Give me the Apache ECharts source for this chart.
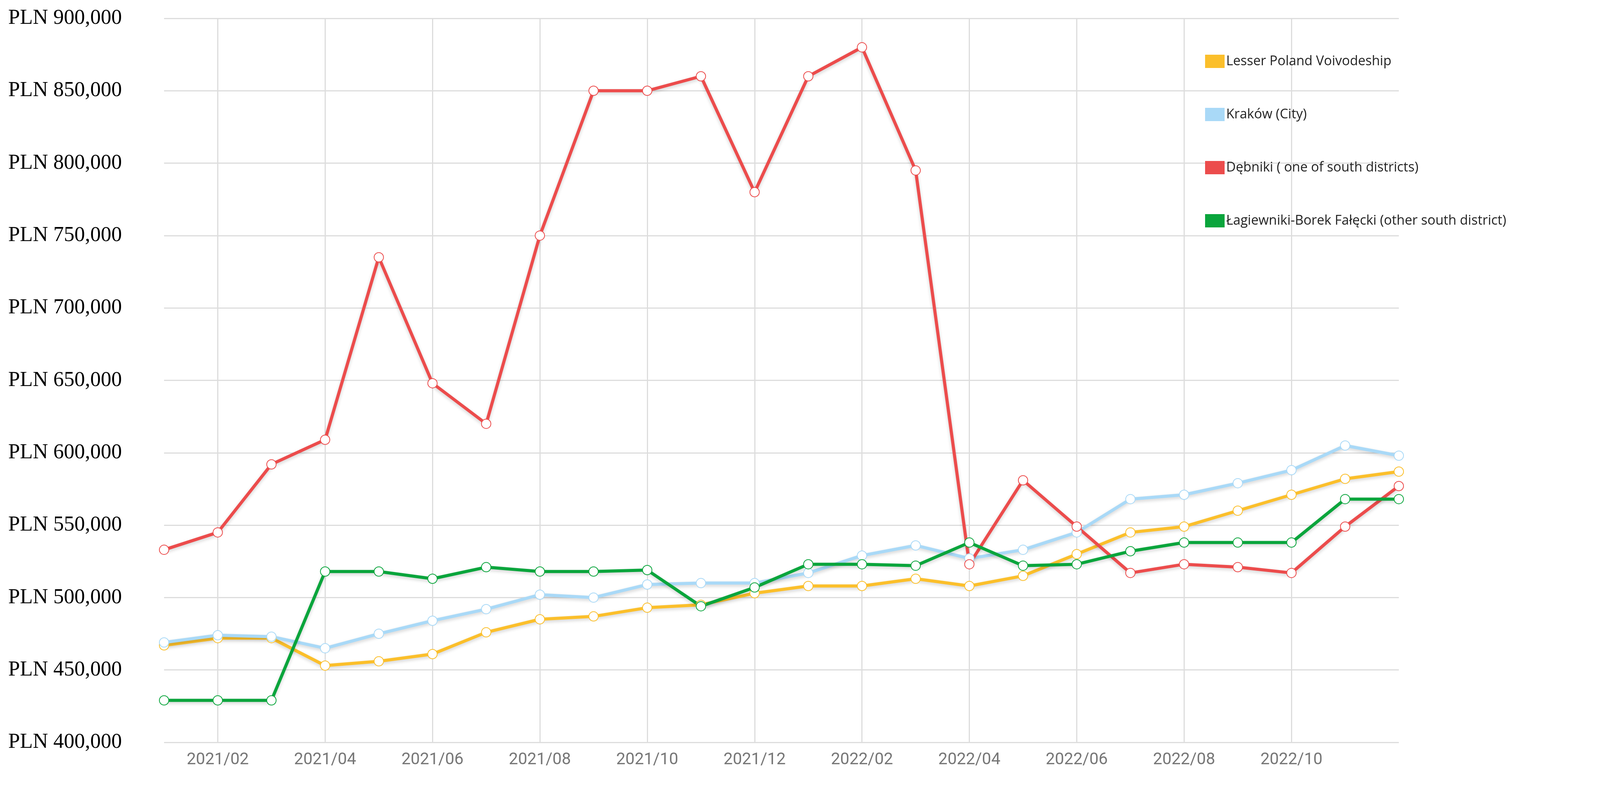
<!DOCTYPE html>
<html>
<head>
<meta charset="utf-8">
<script src="https://cdn.jsdelivr.net/npm/echarts@6/dist/echarts.min.js"></script>
<style>html,body{margin:0;padding:0;background:#fff}#chart{width:4198px;height:2068px}</style>
</head>
<body>
<div id="chart"></div>
<script>
var months = ["2021/01","2021/02","2021/03","2021/04","2021/05","2021/06","2021/07","2021/08","2021/09","2021/10","2021/11","2021/12",
  "2022/01","2022/02","2022/03","2022/04","2022/05","2022/06","2022/07","2022/08","2022/09","2022/10","2022/11","2022/12"];
var lesserPoland = [467,472,472,453,456,461,476,485,487,493,495,503,508,508,513,508,515,530,545,549,560,571,582,587];
var krakow = [469,474,473,465,475,484,492,502,500,509,510,510,517,529,536,527,533,545,568,571,579,588,605,598];
var debniki = [533,545,592,609,735,648,620,750,850,850,860,780,860,880,795,523,581,549,517,523,521,517,549,577];
var lagiewniki = [429,429,429,518,518,513,521,518,518,519,494,507,523,523,522,538,522,523,532,538,538,538,568,568];

function k(arr) { return arr.map(function (v) { return v * 1000; }); }
function series(name, color, data) {
  return {
    name: name, type: "line", data: k(data),
    symbol: "emptyCircle", symbolSize: 24,
    lineStyle: { color: color, width: 8, shadowColor: "rgba(0,0,0,0.18)", shadowBlur: 8, shadowOffsetY: 4 },
    itemStyle: { color: color, borderWidth: 6, borderColor: color },
    emphasis: { disabled: true }
  };
}
var oddIdx = function (i) { return i % 2 === 1 && i < 22; };

var myChart = echarts.init(document.getElementById("chart"));
var option = {
  animation: false,
  grid: { left: 420, right: 617, top: 47, bottom: 168 },
  legend: {
    orient: "vertical", left: 3080, top: 135, itemGap: 102,
    itemWidth: 48, itemHeight: 32, icon: "rect",
    textStyle: { fontFamily: "Open Sans", fontSize: 34, color: "#222" },
    data: ["Lesser Poland Voivodeship", "Kraków (City)", "Dębniki ( one of south districts)", "Łagiewniki-Borek Fałęcki (other south district)"]
  },
  xAxis: {
    type: "category", data: months, boundaryGap: false,
    axisLine: { show: false }, axisTick: { show: false },
    axisLabel: { interval: oddIdx, fontFamily: "Roboto", fontSize: 42, color: "#777", margin: 24 },
    splitLine: { show: true, interval: oddIdx, lineStyle: { color: "#ddd", width: 3 } }
  },
  yAxis: {
    type: "value", min: 400000, max: 900000, interval: 50000,
    axisLine: { show: false }, axisTick: { show: false },
    axisLabel: {
      fontFamily: "Liberation Serif", fontSize: 54, color: "#000", margin: 399, align: "left",
      formatter: function (v) { return "PLN " + v.toLocaleString("en-US"); }
    },
    splitLine: { lineStyle: { color: "#ddd", width: 3 } }
  },
  series: [
    series("Lesser Poland Voivodeship", "#fbbf2b", lesserPoland),
    series("Kraków (City)", "#a9d9f7", krakow),
    series("Dębniki ( one of south districts)", "#ec4c4c", debniki),
    series("Łagiewniki-Borek Fałęcki (other south district)", "#0aa53c", lagiewniki)
  ]
};
myChart.setOption(option);
</script>
</body>
</html>
